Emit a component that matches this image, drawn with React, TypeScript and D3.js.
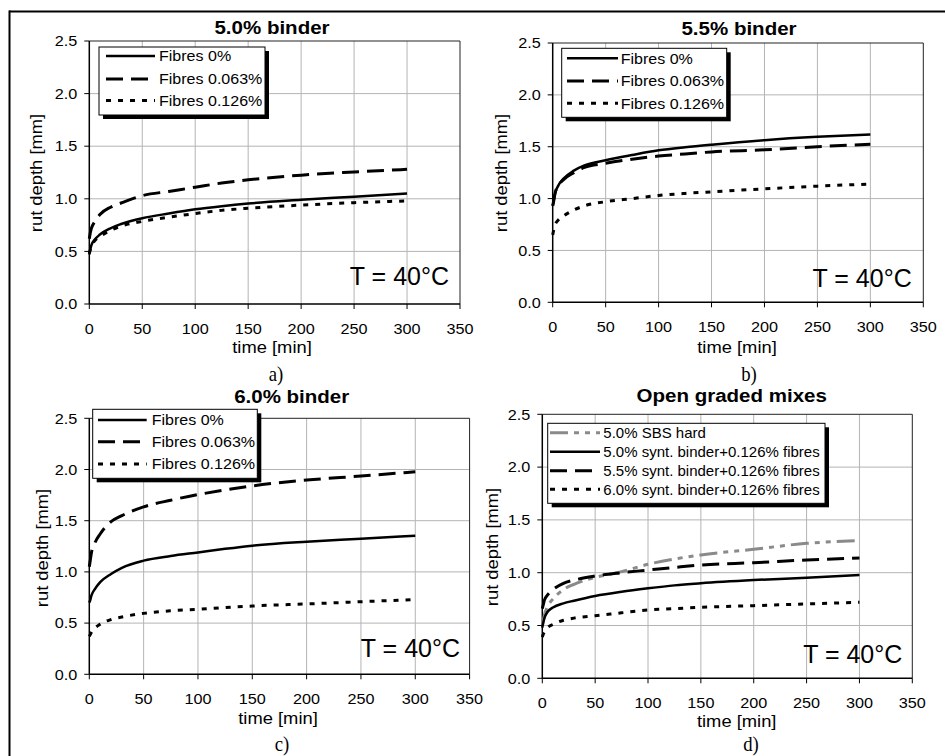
import React from "react";
import * as d3 from "d3";

// ---------- data ----------
const TIMES = [0, 1, 2, 5, 10, 20, 30, 50, 75, 100, 125, 150, 200, 250, 300];
const X_TICKS = [0, 50, 100, 150, 200, 250, 300, 350];
const Y_TICKS = [0, 0.5, 1.0, 1.5, 2.0, 2.5];

const FIBRE_LABELS = ["Fibres 0%", "Fibres 0.063%", "Fibres 0.126%"];
const OPEN_LABELS = [
  "5.0% SBS hard",
  "5.0% synt. binder+0.126% fibres",
  "5.5% synt. binder+0.126% fibres",
  "6.0% synt. binder+0.126% fibres",
];

// a) 5.0% binder
const A_F0 = [0.47, 0.52, 0.56, 0.61, 0.66, 0.72, 0.76, 0.815, 0.86, 0.9, 0.93, 0.955, 0.99, 1.02, 1.05];
const A_F063 = [0.62, 0.68, 0.72, 0.78, 0.85, 0.92, 0.96, 1.03, 1.07, 1.11, 1.15, 1.18, 1.225, 1.255, 1.28];
const A_F126 = [0.48, 0.52, 0.55, 0.6, 0.64, 0.7, 0.74, 0.785, 0.825, 0.86, 0.89, 0.91, 0.94, 0.963, 0.98];

// b) 5.5% binder
const B_F0 = [0.93, 0.98, 1.04, 1.12, 1.19, 1.27, 1.32, 1.37, 1.42, 1.465, 1.495, 1.52, 1.563, 1.595, 1.618];
const B_F063 = [0.93, 0.98, 1.04, 1.12, 1.18, 1.25, 1.3, 1.34, 1.38, 1.41, 1.43, 1.45, 1.47, 1.5, 1.524];
const B_F126 = [0.65, 0.7, 0.74, 0.79, 0.83, 0.89, 0.93, 0.97, 1.0, 1.03, 1.05, 1.065, 1.094, 1.12, 1.14];

// c) 6.0% binder
const C_F0 = [0.7, 0.73, 0.77, 0.83, 0.9, 0.98, 1.04, 1.11, 1.155, 1.19, 1.225, 1.256, 1.295, 1.324, 1.354];
const C_F063 = [1.05, 1.12, 1.19, 1.28, 1.37, 1.49, 1.55, 1.635, 1.7, 1.755, 1.8, 1.84, 1.897, 1.936, 1.978];
const C_F126 = [0.37, 0.39, 0.41, 0.45, 0.49, 0.535, 0.56, 0.595, 0.62, 0.635, 0.652, 0.667, 0.687, 0.709, 0.73];

// d) Open graded mixes
const D_SBS = [0.5, 0.55, 0.6, 0.68, 0.75, 0.84, 0.89, 0.955, 1.01, 1.08, 1.13, 1.168, 1.222, 1.278, 1.305];
const D_S50 = [0.48, 0.53, 0.57, 0.63, 0.67, 0.71, 0.735, 0.78, 0.82, 0.852, 0.88, 0.9, 0.93, 0.953, 0.978];
const D_S55 = [0.66, 0.7, 0.74, 0.79, 0.84, 0.9, 0.93, 0.969, 1.0, 1.025, 1.05, 1.073, 1.095, 1.12, 1.14];
const D_S60 = [0.39, 0.42, 0.44, 0.48, 0.51, 0.55, 0.57, 0.593, 0.62, 0.647, 0.66, 0.672, 0.688, 0.704, 0.72];

// ---------- styles ----------
const SANS = "'Liberation Sans', Arial, sans-serif";
const SERIF = "'Liberation Serif', 'Times New Roman', serif";

type LineStyle = { stroke: string; width: number; dash?: string };
const SOLID: LineStyle = { stroke: "#000", width: 2.5 };
const DASHED: LineStyle = { stroke: "#000", width: 3, dash: "17,8" };
const DOTTED: LineStyle = { stroke: "#000", width: 3, dash: "5,7" };
const GRAYDASH: LineStyle = { stroke: "#8a8a8a", width: 3, dash: "18,6,5,6,5,6" };

type Series = { label: string; values: number[]; style: LineStyle };

type PanelCfg = {
  title: string;
  letter: string;
  x0: number; x1: number; yT: number; yB: number;
  titleX: number; titleY: number;
  xlabX: number; xlabY: number;
  ylabX: number; ylabY: number;
  letX: number; letY: number;
  tX: number; tY: number;
  leg: { x: number; y: number; w: number; h: number; l1: number; l2: number; tx: number; rows: number[]; sx: number };
  series: Series[];
};

const PANELS: PanelCfg[] = [
  {
    title: "5.0% binder", letter: "a)",
    x0: 89.3, x1: 460, yT: 41, yB: 304,
    titleX: 272, titleY: 34, xlabX: 272, xlabY: 353, ylabX: 42, ylabY: 173,
    letX: 276, letY: 381, tX: 449, tY: 285,
    leg: { x: 99, y: 47, w: 166, h: 68, l1: 106, l2: 155, tx: 159, rows: [56, 79, 100.5], sx: 1.07 },
    series: [
      { label: FIBRE_LABELS[0], values: A_F0, style: SOLID },
      { label: FIBRE_LABELS[1], values: A_F063, style: DASHED },
      { label: FIBRE_LABELS[2], values: A_F126, style: DOTTED },
    ],
  },
  {
    title: "5.5% binder", letter: "b)",
    x0: 552.7, x1: 923.3, yT: 43, yB: 302.3,
    titleX: 739, titleY: 35, xlabX: 737, xlabY: 353, ylabX: 507, ylabY: 173,
    letX: 749, letY: 381, tX: 911.7, tY: 286.7,
    leg: { x: 561.7, y: 48.3, w: 165, h: 69, l1: 567, l2: 618, tx: 620.7, rows: [58.3, 81, 103.3], sx: 1.07 },
    series: [
      { label: FIBRE_LABELS[0], values: B_F0, style: SOLID },
      { label: FIBRE_LABELS[1], values: B_F063, style: DASHED },
      { label: FIBRE_LABELS[2], values: B_F126, style: DOTTED },
    ],
  },
  {
    title: "6.0% binder", letter: "c)",
    x0: 89.3, x1: 469.6, yT: 418.3, yB: 674.3,
    titleX: 291.7, titleY: 403, xlabX: 278, xlabY: 724, ylabX: 48, ylabY: 548,
    letX: 282, letY: 751, tX: 460, tY: 657.3,
    leg: { x: 92.7, y: 409.3, w: 164.6, h: 69, l1: 98, l2: 146.7, tx: 151.7, rows: [420, 441.7, 464], sx: 1.07 },
    series: [
      { label: FIBRE_LABELS[0], values: C_F0, style: SOLID },
      { label: FIBRE_LABELS[1], values: C_F063, style: DASHED },
      { label: FIBRE_LABELS[2], values: C_F126, style: DOTTED },
    ],
  },
  {
    title: "Open graded mixes", letter: "d)",
    x0: 542.3, x1: 912.3, yT: 414.3, yB: 678.3,
    titleX: 731.7, titleY: 402, xlabX: 736.7, xlabY: 727, ylabX: 498, ylabY: 547,
    letX: 751, letY: 751, tX: 902.3, tY: 662.7,
    leg: { x: 547.7, y: 423.3, w: 277.3, h: 80, l1: 550, l2: 600, tx: 603.3, rows: [432.7, 451.7, 470.7, 489.3], sx: 1.0 },
    series: [
      { label: OPEN_LABELS[0], values: D_SBS, style: GRAYDASH },
      { label: OPEN_LABELS[1], values: D_S50, style: SOLID },
      { label: OPEN_LABELS[2], values: D_S55, style: DASHED },
      { label: OPEN_LABELS[3], values: D_S60, style: DOTTED },
    ],
  },
];

// reference text is slightly wide; stretch horizontally a little
const SX = 1.08;

function SText({
  x, y, anchor = "start", size, weight, dy, sx = SX, children,
}: {
  x: number; y: number; anchor?: string; size: number; weight?: string; dy?: string; sx?: number; children: React.ReactNode;
}) {
  return (
    <text
      transform={`translate(${x},${y}) scale(${sx},1)`}
      dy={dy}
      textAnchor={anchor as any}
      fontSize={size}
      fontWeight={weight}
      fontFamily={SANS}
    >
      {children}
    </text>
  );
}

function Panel({ cfg }: { cfg: PanelCfg }) {
  const x = d3.scaleLinear().domain([0, 350]).range([cfg.x0, cfg.x1]);
  const y = d3.scaleLinear().domain([0, 2.5]).range([cfg.yB, cfg.yT]);
  const line = d3
    .line<[number, number]>()
    .x((d) => x(d[0]))
    .y((d) => y(d[1]))
    .curve(d3.curveMonotoneX);
  const fmt = d3.format(".1f");
  const L = cfg.leg;
  return (
    <g>
      {/* grid */}
      {X_TICKS.slice(1, -1).map((t) => (
        <line key={"gx" + t} x1={x(t)} x2={x(t)} y1={cfg.yT} y2={cfg.yB} stroke="#b4b4b4" strokeWidth={1} />
      ))}
      {Y_TICKS.slice(1, -1).map((t) => (
        <line key={"gy" + t} x1={cfg.x0} x2={cfg.x1} y1={y(t)} y2={y(t)} stroke="#b4b4b4" strokeWidth={1} />
      ))}
      {/* frame */}
      <line x1={cfg.x0} x2={cfg.x1} y1={cfg.yT} y2={cfg.yT} stroke="#222" strokeWidth={1} />
      <line x1={cfg.x1} x2={cfg.x1} y1={cfg.yT} y2={cfg.yB} stroke="#222" strokeWidth={1} />
      {/* axes */}
      <line x1={cfg.x0} x2={cfg.x0} y1={cfg.yT} y2={cfg.yB} stroke="#000" strokeWidth={1.5} />
      <line x1={cfg.x0} x2={cfg.x1} y1={cfg.yB} y2={cfg.yB} stroke="#000" strokeWidth={1.5} />
      {X_TICKS.map((t) => (
        <g key={"tx" + t}>
          <line x1={x(t)} x2={x(t)} y1={cfg.yB} y2={cfg.yB + 5} stroke="#000" strokeWidth={1} />
          <SText x={x(t)} y={cfg.yB + 29.5} anchor="middle" size={15}>
            {t}
          </SText>
        </g>
      ))}
      {Y_TICKS.map((t) => (
        <g key={"ty" + t}>
          <line x1={cfg.x0 - 5} x2={cfg.x0} y1={y(t)} y2={y(t)} stroke="#000" strokeWidth={1} />
          <SText x={cfg.x0 - 12} y={y(t)} dy="0.35em" anchor="end" size={15}>
            {fmt(t)}
          </SText>
        </g>
      ))}
      {/* series */}
      {cfg.series.map((s, i) => (
        <path
          key={"s" + i}
          d={line(TIMES.map((t, j) => [t, s.values[j]] as [number, number])) || ""}
          fill="none"
          stroke={s.style.stroke}
          strokeWidth={s.style.width}
          strokeDasharray={s.style.dash}
        />
      ))}
      {/* legend */}
      <rect x={L.x + 4} y={L.y + 4} width={L.w} height={L.h} fill="#000" />
      <rect x={L.x} y={L.y} width={L.w} height={L.h} fill="#fff" stroke="#000" strokeWidth={1} />
      {cfg.series.map((s, i) => (
        <g key={"l" + i}>
          <line
            x1={L.l1}
            x2={L.l2}
            y1={L.rows[i]}
            y2={L.rows[i]}
            stroke={s.style.stroke}
            strokeWidth={s.style.width}
            strokeDasharray={s.style.dash}
          />
          <SText x={L.tx} y={L.rows[i]} dy="0.35em" size={15} sx={L.sx}>
            {s.label}
          </SText>
        </g>
      ))}
      {/* texts */}
      <SText x={cfg.titleX} y={cfg.titleY} anchor="middle" size={19} weight="bold">
        {cfg.title}
      </SText>
      <SText x={cfg.xlabX} y={cfg.xlabY} anchor="middle" size={17}>
        time [min]
      </SText>
      <text
        transform={`translate(${cfg.ylabX},${cfg.ylabY}) rotate(-90) scale(${SX},1)`}
        textAnchor="middle"
        fontSize={17}
        fontFamily={SANS}
      >
        rut depth [mm]
      </text>
      <text x={cfg.tX} y={cfg.tY} textAnchor="end" fontSize={25} fontFamily={SANS}>
        T = 40°C
      </text>
      <text
        transform={`translate(${cfg.letX},${cfg.letY}) scale(0.85,1)`}
        textAnchor="middle"
        fontSize={22}
        fontFamily={SERIF}
      >
        {cfg.letter}
      </text>
    </g>
  );
}

export default function App() {
  return (
    <svg
      width={945}
      height={756}
      style={{ position: "absolute", left: 0, top: 0, background: "#fff" }}
    >
      <rect x={0} y={0} width={945} height={756} fill="#fff" />
      <line x1={9} x2={945} y1={11.5} y2={11.5} stroke="#000" strokeWidth={2} />
      <line x1={9.5} x2={9.5} y1={10.5} y2={756} stroke="#000" strokeWidth={2} />
      {PANELS.map((p, i) => (
        <Panel key={i} cfg={p} />
      ))}
    </svg>
  );
}
